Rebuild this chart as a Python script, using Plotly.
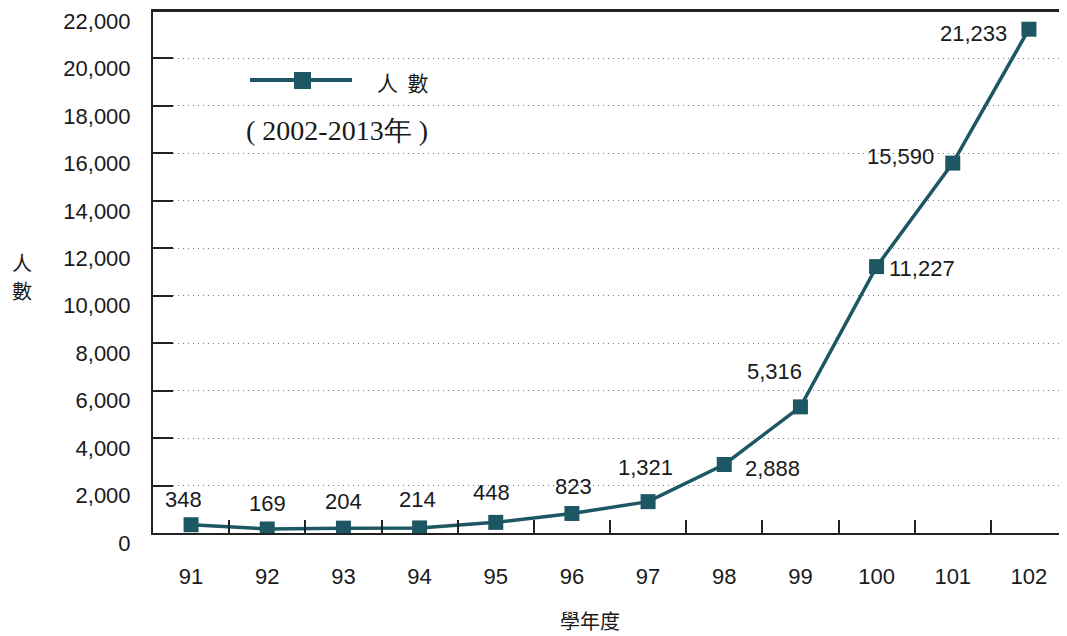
import plotly.graph_objects as go

years = ["91", "92", "93", "94", "95", "96", "97", "98", "99", "100", "101", "102"]
counts = [348, 169, 204, 214, 448, 823, 1321, 2888, 5316, 11227, 15590, 21233]
# label offsets (pixels) relative to each marker
label_dx = [-8, 0, 0, -2, -4, 2, -3, 48, -26, 45, -52, -55]
label_dy = [25, 25, 27, 28, 30, 27, 34, -4, 35, -2, 7, -4]
y_ticks = list(range(0, 22001, 2000))

LINE = "#1d5763"
TXT = "#1a1a1a"
FONT = "Liberation Sans, Arial, sans-serif"
CJK = "Noto Sans CJK TC"

OFF = 8  # page body margin
W, H = 1067 - OFF, 636 - OFF
L, R, T, B = 153 - OFF, 0, 3, 636 - 533
pw, ph = W - L - R, H - T - B


def px(x):
    return (x - OFF - L) / pw


def py(y):
    return (H - B - (y - OFF)) / ph


fig = go.Figure()
fig.add_trace(go.Scatter(
    x=years, y=counts, mode="lines+markers",
    line=dict(color=LINE, width=3.5),
    marker=dict(symbol="square", size=15, color=LINE),
    showlegend=False, hoverinfo="skip",
))

annotations = []
for i, (v, dx, dy) in enumerate(zip(counts, label_dx, label_dy)):
    annotations.append(dict(
        x=i, y=v, xref="x", yref="y", text=f"{v:,}", showarrow=False,
        xanchor="center", yanchor="middle",
        xshift=dx, yshift=dy, font=dict(family=FONT, size=22, color=TXT),
    ))


def paper_text(text, x, y, font):
    return dict(text=text, x=px(x), y=py(y), xref="paper", yref="paper",
                xanchor="center", yanchor="middle", showarrow=False, font=font)


annotations.append(paper_text("人", 22, 263, dict(family=CJK, size=20, color=TXT)))
annotations.append(paper_text("數", 22, 290, dict(family=CJK, size=20, color=TXT)))
annotations.append(paper_text("學年度", 590, 620, dict(family=CJK, size=20, color=TXT)))
annotations.append(paper_text("人  數", 402, 82, dict(family=CJK, size=21, color=TXT)))
annotations.append(paper_text("( 2002-2013年 )", 337, 130,
                              dict(family="Liberation Serif, serif", size=28, color=TXT)))

shapes = [
    # top frame line of the plot area
    dict(type="line", xref="paper", yref="paper", x0=0, x1=1, y0=1, y1=1,
         line=dict(color="#222", width=2), layer="above"),
    dict(type="line", xref="paper", yref="paper", x0=px(250), x1=px(352), y0=py(80), y1=py(80),
         line=dict(color=LINE, width=4)),
    dict(type="rect", xref="paper", yref="paper", x0=px(294), x1=px(311), y0=py(72), y1=py(89),
         line=dict(width=0), fillcolor=LINE),
]

fig.update_layout(
    width=W, height=H,
    margin=dict(l=L, r=R, t=T, b=B, autoexpand=False),
    paper_bgcolor="white", plot_bgcolor="white",
    annotations=annotations, shapes=shapes,
    font=dict(family=FONT, size=22, color=TXT),
    xaxis=dict(
        type="category", tickson="boundaries", ticks="inside", ticklen=13,
        tickcolor="#222", tickwidth=1.5, showgrid=False,
        showline=True, linecolor="#222", linewidth=2, mirror=True,
        tickfont=dict(family=FONT, size=22, color=TXT), ticklabelstandoff=23,
        range=[-0.5, 11.5], zeroline=False, automargin=False,
    ),
    yaxis=dict(
        range=[0, 22000], tickvals=y_ticks, tickformat=",d",
        ticks="inside", ticklen=20, tickcolor="#222", tickwidth=1.5,
        showline=True, linecolor="#222", linewidth=2,
        showgrid=True, gridcolor="#777", griddash="1px,4px", gridwidth=1,
        zeroline=False, tickfont=dict(family=FONT, size=22, color=TXT),
        ticklabelposition="outside", ticklabelshift=10, ticklabelstandoff=16,
        ticklabeloverflow="allow", automargin=False,
    ),
)

fig.write_html("out.html")
